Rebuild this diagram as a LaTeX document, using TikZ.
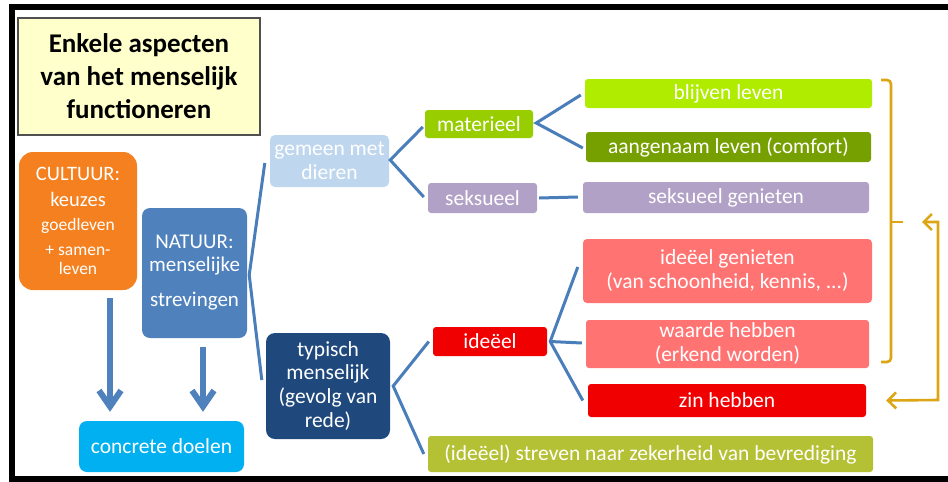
\documentclass[tikz,border=0pt]{standalone}
\usepackage{fontspec}
\setmainfont{Carlito}
\usetikzlibrary{arrows.meta}
\definecolor{cultorange}{RGB}{245,128,32}
\definecolor{natblue}{RGB}{79,129,189}
\definecolor{gemblue}{RGB}{190,214,238}
\definecolor{matgreen}{RGB}{152,205,0}
\definecolor{sekspurple}{RGB}{178,161,199}
\definecolor{limegreen}{RGB}{176,236,0}
\definecolor{darkgreen}{RGB}{118,160,0}
\definecolor{salmon}{RGB}{255,115,115}
\definecolor{brightred}{RGB}{240,0,0}
\definecolor{olivegreen}{RGB}{181,193,52}
\definecolor{navy}{RGB}{31,73,125}
\definecolor{cyanbox}{RGB}{0,176,240}
\definecolor{connblue}{RGB}{74,126,187}
\definecolor{gold}{RGB}{220,165,20}
\definecolor{titlefill}{RGB}{255,255,204}
\definecolor{titleline}{RGB}{80,80,80}
\begin{document}
\begin{tikzpicture}[x=1pt,y=-1pt,
  box/.style={rectangle,rounded corners=3pt,inner sep=0pt,align=flush center,text=white,
    font=\fontsize{21.5}{24}\selectfont},
  conn/.style={draw=connblue,line width=3pt},
  bigarrow/.style={draw=natblue,line width=6pt,-{Straight Barb[length=16pt,width=22pt]}},
  goldline/.style={draw=gold,line width=2.6pt}]
\useasboundingbox (0,0) rectangle (948,482);
\fill[white] (0,0) rectangle (948,482);
\clip (0,0) rectangle (948,482);
\draw[line width=6pt] (960,7) -- (11.5,7) -- (11.5,479) -- (960,479);

% title
\node[rectangle,fill=titlefill,draw=titleline,line width=1.2pt,inner sep=0pt,
  minimum width=242pt,minimum height=117pt,text width=236pt,align=flush center,
  font=\bfseries\fontsize{27}{33}\selectfont] (title) at (139,76.5)
  {Enkele aspecten\\van het menselijk\\functioneren};

% left column
\node[box,fill=cultorange,rounded corners=14pt,minimum width=118pt,minimum height=138pt,
  text width=114pt] (cultuur) at (78,221)
  {\fontsize{20.5}{26}\selectfont CULTUUR:\\keuzes\\[-1pt]\fontsize{17.5}{25}\selectfont goedleven\\+ samen-\\[-5pt]leven};
\node[box,fill=natblue,rounded corners=8pt,minimum width=105pt,minimum height=130pt,
  text width=101pt] (natuur) at (194.5,273)
  {\fontsize{21}{23}\selectfont NATUUR:\\menselijke\\[11pt]strevingen};
\node[box,fill=cyanbox,rounded corners=8pt,minimum width=165pt,minimum height=51pt] (concrete) at (161.5,446.5)
  {concrete doelen};

% second column
\node[box,fill=gemblue,rounded corners=5pt,minimum width=119pt,minimum height=52pt,
  text width=116pt] (gemeen) at (329.5,161)
  {\fontsize{21.5}{22}\selectfont gemeen met\\dieren};
\node[box,fill=navy,rounded corners=9pt,minimum width=124pt,minimum height=106pt,
  text width=120pt] (typisch) at (328,386)
  {\fontsize{21.5}{23.5}\selectfont typisch\\menselijk\\(gevolg van\\rede)};

% third column
\node[box,fill=matgreen,minimum width=108pt,minimum height=28pt] (materieel) at (479,124) {materieel};
\node[box,fill=sekspurple,minimum width=109pt,minimum height=30pt] (seksueel) at (482.5,198) {seksueel};
\node[box,fill=brightred,minimum width=114pt,minimum height=29pt] (ideel) at (490,341.5) {ideëel};

% right column
\node[box,fill=limegreen,minimum width=287pt,minimum height=29pt] (blijven) at (728.5,93.5) {blijven leven};
\node[box,fill=darkgreen,minimum width=285pt,minimum height=30pt] (aangenaam) at (728.5,147) {aangenaam leven (comfort)};
\node[box,fill=sekspurple,minimum width=286pt,minimum height=31pt] (seksgen) at (726,197.5) {seksueel genieten};
\node[box,fill=salmon,rounded corners=4pt,minimum width=289pt,minimum height=64pt,text width=285pt] (idgen) at (727.5,271)
  {\fontsize{21.5}{26}\selectfont ideëel genieten\\(van schoonheid, kennis, ...)};
\node[box,fill=salmon,minimum width=283pt,minimum height=48pt,text width=279pt] (waarde) at (727.5,344)
  {\fontsize{21.5}{24}\selectfont waarde hebben\\(erkend worden)};
\node[box,fill=brightred,minimum width=278pt,minimum height=33pt] (zin) at (727,400.5) {zin hebben};
\node[box,fill=olivegreen,minimum width=445pt,minimum height=36pt] (streven) at (650.5,454)
  {(ideëel) streven naar zekerheid van bevrediging};

% connectors
\draw[conn] ([xshift=-5pt,yshift=-2pt]gemeen.west) -- ([xshift=2pt,yshift=-2pt]natuur.east) -- ([xshift=-4pt,yshift=6pt]typisch.west);
\draw[conn] ([xshift=-2pt,yshift=-3pt]materieel.west) -- ([xshift=1pt,yshift=1pt]gemeen.east) -- ([xshift=-4pt,yshift=1pt]seksueel.west);
\draw[conn] ([xshift=-4pt,yshift=-1.5pt]blijven.west) -- ([xshift=3pt,yshift=1pt]materieel.east) -- ([xshift=-3pt,yshift=-1pt]aangenaam.west);
\draw[conn] ([xshift=2pt]seksueel.east) -- ([xshift=-5pt,yshift=0.5pt]seksgen.west);
\draw[conn] ([xshift=-4pt]ideel.west) -- ([xshift=3pt]typisch.east) -- ([xshift=-4pt]streven.west);
\draw[conn] ([xshift=-5pt,yshift=4pt]idgen.west) -- ([xshift=3pt]ideel.east) -- ([xshift=-5pt]zin.west);
\draw[conn] ([xshift=-4pt,yshift=1pt]waarde.west) -- ([xshift=3pt]ideel.east);

% big arrows
\coordinate (acol1) at (110,0);
\coordinate (acol2) at (203,0);
\draw[bigarrow] ([yshift=-8pt]cultuur.south -| acol1) -- ([yshift=9pt]concrete.north -| acol1);
\draw[bigarrow] ([yshift=-9pt]natuur.south -| acol2) -- ([yshift=9pt]concrete.north -| acol2);

% bracket
\coordinate (brtop) at (881,80);
\coordinate (brbot) at (881,362);
\coordinate (brmid) at (903,222);
\draw[goldline,rounded corners=4pt] (brtop) -- (891,80) -- (891,362) -- (brbot);
\draw[goldline] (891,222) -- (brmid);

% return arrow
\coordinate (rettip) at (922,222);
\draw[goldline,{Straight Barb[length=8pt,width=16pt]}-{Straight Barb[length=8pt,width=16pt]}]
  (rettip) -- (938,222) -- (938,400) -- ([xshift=20pt]zin.east);
\end{tikzpicture}
\end{document}
